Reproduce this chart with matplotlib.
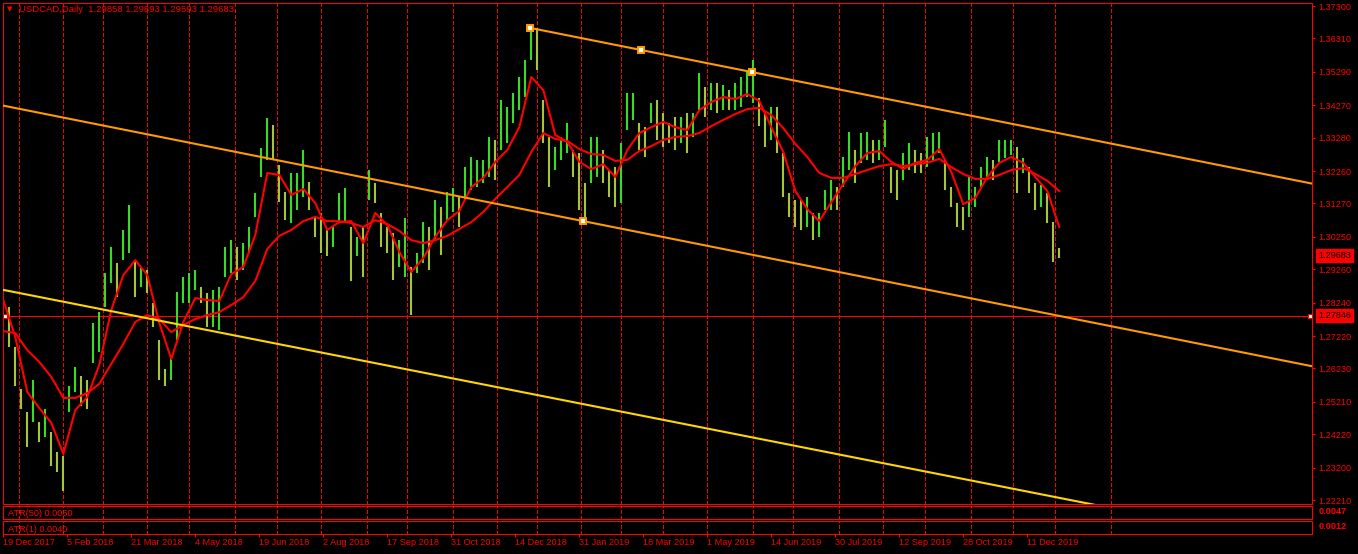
import numpy as np
import matplotlib
matplotlib.use("Agg")
import matplotlib.pyplot as plt
import matplotlib.transforms as mtransforms

plt.rcParams['font.family'] = ['Liberation Sans', 'DejaVu Sans']

# header / prices
symbol = "USDCAD,Daily"
ohlc_text = "1.29858 1.29893 1.29593 1.29683"
last_price = 1.29683
hline_price = 1.27846

# sampled daily bars (every 3rd bar), high / low
bar_high = [
    1.2922, 1.2812, 1.2690, 1.2559, 1.2489, 1.2589, 1.2458, 1.2498, 1.2428, 1.2367,
    1.2355, 1.2568, 1.2629, 1.2599, 1.2589, 1.2763, 1.2794, 1.2916, 1.2995, 1.2946,
    1.3047, 1.3123, 1.2955, 1.2934, 1.2925, 1.2824, 1.2711, 1.2620, 1.2659, 1.2858,
    1.2903, 1.2916, 1.2925, 1.2873, 1.2855, 1.2864, 1.2873, 1.2995, 1.3016, 1.2995,
    1.3007, 1.3056, 1.3160,
    1.3297, 1.3388, 1.3367, 1.3245, 1.3163, 1.3221, 1.3221, 1.3291, 1.3193, 1.3086,
    1.3099, 1.3047, 1.3056, 1.3160, 1.3175, 1.3056, 1.3025, 1.3056, 1.3230, 1.3190,
    1.3099, 1.3056, 1.3038, 1.3016, 1.3083, 1.2934, 1.2977, 1.3071, 1.3056, 1.3138,
    1.3117, 1.3163, 1.3175, 1.3147, 1.3239, 1.3269, 1.3260, 1.3260, 1.3330, 1.3321,
    1.3443, 1.3422, 1.3465, 1.3513, 1.3565, 1.3663, 1.3663, 1.3443, 1.3330, 1.3300,
    1.3330, 1.3373, 1.3291, 1.3282, 1.3190, 1.3330, 1.3330, 1.3291, 1.3230, 1.3239,
    1.3312, 1.3465, 1.3465, 1.3373, 1.3361, 1.3434, 1.3443, 1.3404, 1.3373, 1.3391,
    1.3391, 1.3404, 1.3404, 1.3526, 1.3483, 1.3495, 1.3495, 1.3489, 1.3474, 1.3495,
    1.3513, 1.3529, 1.3565,
    1.3450, 1.3404, 1.3422, 1.3422, 1.3280, 1.3160, 1.3138, 1.3138, 1.3147, 1.3099,
    1.3099, 1.3169, 1.3199, 1.3178, 1.3269, 1.3346, 1.3291, 1.3343, 1.3346, 1.3321,
    1.3321, 1.3382, 1.3239, 1.3230, 1.3282, 1.3312, 1.3291, 1.3282, 1.3330, 1.3343,
    1.3346, 1.3260, 1.3178, 1.3129, 1.3117, 1.3208, 1.3178, 1.3239, 1.3269, 1.3260,
    1.3320,
    1.3321, 1.3321, 1.3300, 1.3266, 1.3239, 1.3190, 1.3184, 1.3160, 1.3071, 1.2992,
]
bar_low = [
    1.2794, 1.2690, 1.2568, 1.2498, 1.2382, 1.2458, 1.2397, 1.2415, 1.2324, 1.2306,
    1.2248, 1.2489, 1.2550, 1.2507, 1.2498, 1.2641, 1.2672, 1.2812, 1.2885, 1.2842,
    1.2955, 1.2977, 1.2842, 1.2873, 1.2855, 1.2751, 1.2589, 1.2568, 1.2589, 1.2711,
    1.2824, 1.2824, 1.2864, 1.2824, 1.2751, 1.2751, 1.2742, 1.2903, 1.2916, 1.2894,
    1.2925, 1.2977, 1.3086,
    1.3208, 1.3260, 1.3260, 1.3132, 1.3077, 1.3068, 1.3108, 1.3147, 1.3108, 1.3025,
    1.2977, 1.2965, 1.2995, 1.3068, 1.3068, 1.2889, 1.2965, 1.2903, 1.3138, 1.3129,
    1.2995, 1.2977, 1.2894, 1.2934, 1.2903, 1.2785, 1.2916, 1.2946, 1.2925, 1.3016,
    1.2970, 1.3077, 1.3102, 1.3056, 1.3138, 1.3169, 1.3178, 1.3190, 1.3208, 1.3200,
    1.3291, 1.3312, 1.3373, 1.3413, 1.3452, 1.3565, 1.3535, 1.3312, 1.3178, 1.3230,
    1.3260, 1.3282, 1.3208, 1.3108, 1.3086, 1.3190, 1.3208, 1.3190, 1.3147, 1.3117,
    1.3129, 1.3352, 1.3382, 1.3291, 1.3269, 1.3373, 1.3321, 1.3300, 1.3312, 1.3291,
    1.3312, 1.3282, 1.3330, 1.3413, 1.3391, 1.3413, 1.3404, 1.3413, 1.3413, 1.3413,
    1.3422, 1.3452, 1.3434,
    1.3365, 1.3300, 1.3321, 1.3282, 1.3147, 1.3086, 1.3056, 1.3047, 1.3056, 1.3016,
    1.3025, 1.3108, 1.3108, 1.3108, 1.3178, 1.3230, 1.3190, 1.3251, 1.3260, 1.3251,
    1.3260, 1.3300, 1.3160, 1.3138, 1.3199, 1.3230, 1.3221, 1.3221, 1.3239, 1.3260,
    1.3282, 1.3169, 1.3117, 1.3056, 1.3047, 1.3086, 1.3117, 1.3178, 1.3199, 1.3199,
    1.3255,
    1.3266, 1.3275, 1.3160, 1.3221, 1.3160, 1.3108, 1.3117, 1.3068, 1.2949, 1.2961,
]

# moving averages, sampled every 6th bar
ma_fast = [
    1.2832, 1.2719, 1.2551, 1.2502, 1.2457, 1.2362, 1.2496, 1.2536, 1.2634, 1.2802,
    1.2908, 1.2954, 1.2908, 1.2762, 1.2652, 1.2765, 1.2838, 1.2832, 1.2829, 1.2911,
    1.2933, 1.3031,
    1.3220, 1.3214, 1.3153, 1.3171, 1.3128, 1.3046, 1.3070, 1.3073, 1.3006, 1.3098,
    1.3061, 1.2979, 1.2918, 1.2960, 1.3025, 1.3076, 1.3104, 1.3177, 1.3205, 1.3254,
    1.3290, 1.3360, 1.3513, 1.3473, 1.3336, 1.3315, 1.3254, 1.3232, 1.3247, 1.3208,
    1.3290, 1.3342, 1.3360, 1.3376, 1.3360, 1.3351, 1.3412, 1.3437, 1.3452, 1.3446,
    1.3461, 1.3440,
    1.3360, 1.3284, 1.3165, 1.3110, 1.3073, 1.3131, 1.3186, 1.3241, 1.3281, 1.3287,
    1.3254, 1.3232, 1.3251, 1.3260, 1.3293, 1.3223, 1.3125, 1.3144, 1.3208, 1.3251,
    1.3269, 1.3251, 1.3208, 1.3165, 1.3055,
]
ma_slow = [
    1.2737, 1.2731, 1.2679, 1.2643, 1.2597, 1.2533, 1.2533, 1.2548, 1.2576, 1.2637,
    1.2698, 1.2765, 1.2786, 1.2774, 1.2734, 1.2756, 1.2774, 1.2786, 1.2795, 1.2817,
    1.2841, 1.2890,
    1.2988, 1.3028, 1.3046, 1.3073, 1.3086, 1.3073, 1.3073, 1.3067, 1.3055, 1.3076,
    1.3064, 1.3043, 1.3015, 1.3006, 1.3015, 1.3028, 1.3049, 1.3070, 1.3101, 1.3141,
    1.3177, 1.3214, 1.3284, 1.3342, 1.3324, 1.3318, 1.3293, 1.3278, 1.3275, 1.3257,
    1.3260, 1.3287, 1.3302, 1.3321, 1.3330, 1.3333, 1.3342, 1.3363, 1.3382, 1.3400,
    1.3415, 1.3419,
    1.3397, 1.3357, 1.3309, 1.3269, 1.3220, 1.3205, 1.3205, 1.3217, 1.3229, 1.3241,
    1.3247, 1.3241, 1.3247, 1.3251, 1.3263, 1.3238, 1.3217, 1.3202, 1.3202, 1.3214,
    1.3229, 1.3235, 1.3217, 1.3196, 1.3165,
]

date_labels = ["19 Dec 2017", "5 Feb 2018", "21 Mar 2018", "4 May 2018", "19 Jun 2018",
               "2 Aug 2018", "17 Sep 2018", "31 Oct 2018", "14 Dec 2018", "31 Jan 2019",
               "18 Mar 2019", "1 May 2019", "14 Jun 2019", "30 Jul 2019", "12 Sep 2019",
               "28 Oct 2019", "11 Dec 2019"]
price_ticks = [1.37300, 1.36310, 1.35290, 1.34270, 1.33280, 1.32260, 1.31270, 1.30250,
               1.29260, 1.28240, 1.27220, 1.26230, 1.25210, 1.24220, 1.23200, 1.22210]
month_starts = [8, 30, 50, 72, 93, 116, 137, 159, 182, 202, 225, 247, 267, 289, 309,
                330, 352, 375, 395, 418, 440, 461, 484, 505, 526, 554]

# channel (two anchors on upper line, one on lower), mid marker, yellow trend line
chan_a = (263.5, 1.3663)
chan_b = (374.5, 1.3528)
chan_mid = (319, 1.3596)
chan_c = (290, 1.3073)
yellow_a = (0, 1.2863)
yellow_b = (537, 1.2217)

atr50_text = "ATR(50) 0.0050"
atr1_text = "ATR(1) 0.0040"
atr50_last = "0.0047"
atr1_last = "0.0012"

RED = '#ff0000'
ORANGE = '#ff9a00'
YELLOW = '#ffd700'
UP = '#38dc24'
DOWN = '#a6c63a'
FS = 6.6

W, H = 1358, 554
fig = plt.figure(figsize=(W / 100, H / 100), dpi=100, facecolor='black')


def px_axes(l, t, r, b):
    return fig.add_axes([l / W, 1 - b / H, (r - l) / W, (b - t) / H])


ax = px_axes(2.5, 2.5, 1311.5, 503.5)
ax2 = px_axes(2.5, 505.5, 1311.5, 518.5)
ax3 = px_axes(2.5, 520.5, 1311.5, 533.5)
xlim = (-0.4, 654.1)

for a in (ax, ax2, ax3):
    a.set_facecolor('black')
    a.set_xlim(*xlim)
    for s in a.spines.values():
        s.set_color(RED)
        s.set_linewidth(0.75)
    for m in month_starts:
        a.axvline(m, color=RED, lw=0.72, ls=(0, (3.6, 2.2)), zorder=0.5,
                  antialiased=False)
    a.set_yticks([])
    a.set_xticks([])

ax.set_ylim(1.22106, 1.37407)
ax2.set_ylim(0, 1)
ax3.set_ylim(0, 1)

# price bars
hi = np.array(bar_high)
lo = np.array(bar_low)
bar_idx = np.arange(len(hi)) * 3
mid = (hi + lo) / 2
up = np.r_[True, np.diff(mid) >= 0]
ax.vlines(bar_idx, lo, hi, colors=[UP if u else DOWN for u in up], lw=1.5, zorder=2)

# horizontal line with end markers
ax.axhline(hline_price, color=RED, lw=0.75, zorder=1.5)
ax.plot([xlim[0] + 1.0, xlim[1] - 1.0], [hline_price] * 2, ls='none', marker='s', ms=3,
        mfc='white', mec=RED, mew=0.8, zorder=6, clip_on=False)

# moving averages
ma_idx = np.arange(len(ma_fast)) * 6
ax.plot(ma_idx, ma_slow, color=RED, lw=1.5, zorder=3)
ax.plot(ma_idx, ma_fast, color=RED, lw=1.5, zorder=3)

# equidistant channel: upper line starts at its first anchor, lower spans the chart
slope = (chan_b[1] - chan_a[1]) / (chan_b[0] - chan_a[0])
xs_up = np.array([chan_a[0], xlim[1]])
xs = np.array(xlim)
ax.plot(xs_up, chan_a[1] + slope * (xs_up - chan_a[0]), color=ORANGE, lw=1.5, zorder=4)
ax.plot(xs, chan_c[1] + slope * (xs - chan_c[0]), color=ORANGE, lw=1.5, zorder=4)
for p in (chan_a, chan_mid, chan_b, chan_c):
    ax.plot(p[0], p[1], marker='s', ms=4.5, mfc='white', mec=ORANGE, mew=1.4, zorder=5)

# yellow trend line
ys = (yellow_b[1] - yellow_a[1]) / (yellow_b[0] - yellow_a[0])
ax.plot(xs, yellow_a[1] + ys * (xs - yellow_a[0]), color=YELLOW, lw=1.5, zorder=4)

# right price axis
ax.yaxis.tick_right()
ax.set_yticks(price_ticks)
ax.set_yticklabels([f"{v:.5f}" for v in price_ticks])
ax.tick_params(axis='y', colors=RED, length=2.2, width=0.75, pad=2.6, labelsize=FS)

blend = mtransforms.blended_transform_factory(ax.transAxes, ax.transData)
for val in (last_price, hline_price):
    ax.text(1.0052, val, f"{val:.5f}", transform=blend, ha='left', va='center',
            fontsize=FS, color='black', clip_on=False, zorder=10,
            bbox=dict(boxstyle='square,pad=0.22', fc=RED, ec=RED))

# date axis on the last panel
ax3.set_xticks(np.arange(len(date_labels)) * 32)
ax3.set_xticklabels(date_labels, ha='left')
ax3.tick_params(axis='x', colors=RED, length=2.5, width=0.75, pad=1.0, labelsize=FS)

# indicator panel texts
ax2.text(0.0042, 0.35, atr50_text, transform=ax2.transAxes, color=RED, fontsize=FS,
         va='center', ha='left')
ax3.text(0.0042, 0.32, atr1_text, transform=ax3.transAxes, color=RED, fontsize=FS,
         va='center', ha='left')
ax2.text(1.0052, 0.52, atr50_last, transform=ax2.transAxes, color=RED, fontsize=FS,
         fontweight='bold', va='center', ha='left', clip_on=False)
ax3.text(1.0052, 0.52, atr1_last, transform=ax3.transAxes, color=RED, fontsize=FS,
         fontweight='bold', va='center', ha='left', clip_on=False)

# header
fig.text(10 / W, 1 - 9.5 / H, "\u25bc", color=RED, fontsize=5, ha='center', va='center',
         family=['DejaVu Sans'])
fig.text(19 / W, 1 - 10 / H, f"{symbol}  {ohlc_text}", color=RED, fontsize=6.8,
         ha='left', va='center')

fig.savefig('out.png', dpi=100, facecolor='black')
